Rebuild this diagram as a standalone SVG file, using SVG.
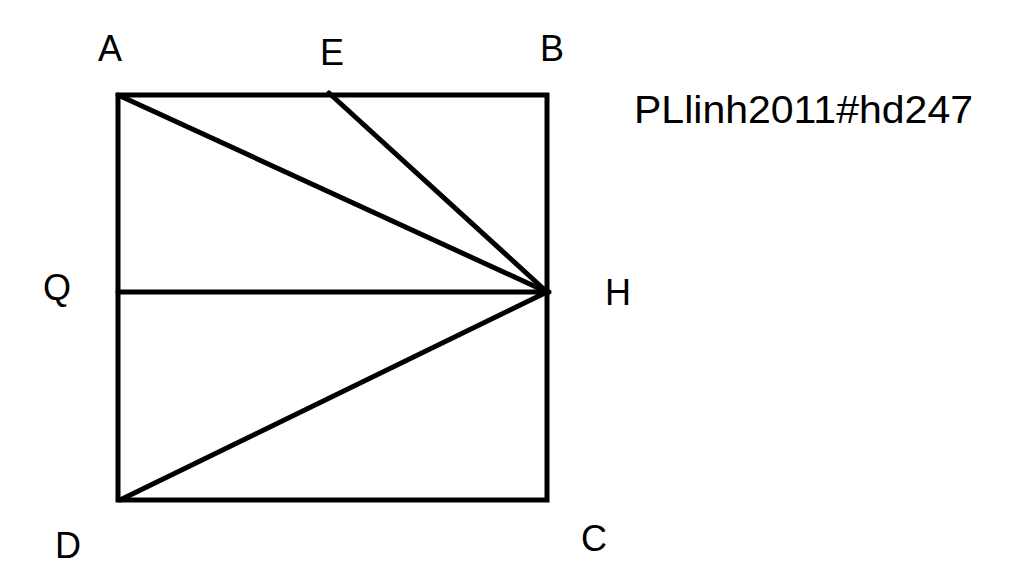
<svg xmlns="http://www.w3.org/2000/svg" width="1024" height="582" viewBox="0 0 1024 582">
<style>
.ln{stroke:#000;stroke-width:5;fill:none;stroke-linecap:round;stroke-linejoin:miter}
.lb{font-family:"Liberation Sans",Arial,sans-serif;font-size:36px;fill:#000}
</style>
<rect width="1024" height="582" fill="#fff"/>
<g id="connectors">
<rect class="ln" x="118" y="95" width="429" height="405"/>
<line class="ln" x1="118" y1="95" x2="547" y2="292"/>
<line class="ln" x1="329" y1="93" x2="547" y2="292"/>
<line class="ln" x1="118" y1="292" x2="549" y2="292"/>
<line class="ln" x1="120" y1="500" x2="547" y2="292"/>
</g>
<g id="A"><text class="lb" x="98" y="61">A</text></g>
<g id="E"><text class="lb" x="320" y="65">E</text></g>
<g id="B"><text class="lb" x="540" y="61">B</text></g>
<g id="Q"><text class="lb" x="43" y="300">Q</text></g>
<g id="H"><text class="lb" x="605" y="305">H</text></g>
<g id="D"><text class="lb" x="55" y="558">D</text></g>
<g id="C"><text class="lb" x="581" y="551">C</text></g>
<g id="caption"><text class="lb" x="634" y="123" style="font-size:39px" textLength="339" lengthAdjust="spacingAndGlyphs">PLlinh2011#hd247</text></g>
</svg>
